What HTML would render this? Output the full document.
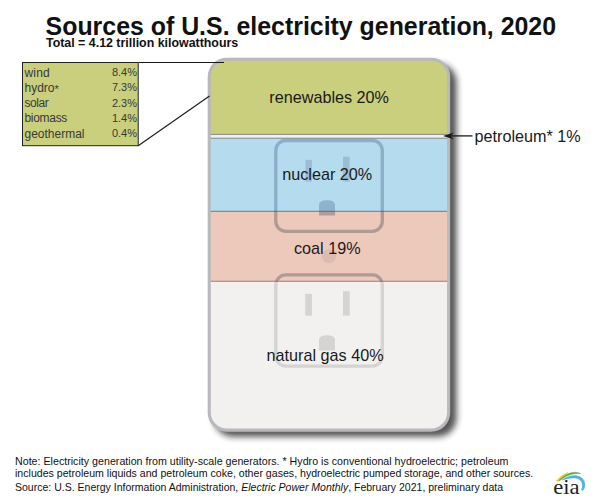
<!DOCTYPE html>
<html><head><meta charset="utf-8">
<style>
html,body{margin:0;padding:0;background:#fff;}
body{width:600px;height:500px;position:relative;overflow:hidden;font-family:"Liberation Sans",sans-serif;color:#1a1a1a;}
.t{position:absolute;white-space:nowrap;line-height:1;}
#title{left:45.6px;top:13.8px;font-size:24.9px;font-weight:bold;color:#111;letter-spacing:0px;}
#sub{left:46px;top:37.3px;font-size:12.4px;font-weight:bold;color:#111;}
.lg{font-size:12px;color:#383838;}
.ln{font-size:11px;color:#383838;right:463px;}
.lbl{font-size:16.2px;color:#1a1a1a;}
.note{font-size:10.6px;color:#111;left:15px;}
svg{position:absolute;left:0;top:0;}
</style></head><body>
<svg width="600" height="500" viewBox="0 0 600 500">
<defs>
<filter id="sh" x="-20%" y="-20%" width="150%" height="150%">
<feGaussianBlur stdDeviation="3"/>
</filter>
<clipPath id="cp"><rect x="210.8" y="60.8" width="236.3" height="367.6" rx="16" ry="16"/></clipPath>
</defs>
<!-- shadow -->
<rect x="214" y="63.5" width="242.6" height="373.2" rx="19" ry="19" fill="#1c1c1c" opacity="0.75" filter="url(#sh)"/>
<!-- plate -->
<rect x="207.7" y="57.8" width="242.5" height="374" rx="19" ry="19" fill="#b8b8bd"/>
<g clip-path="url(#cp)">
<rect x="205" y="55" width="250" height="79.4" fill="#c9cf7c"/>
<rect x="205" y="134.4" width="250" height="3.8" fill="#f5efee"/>
<rect x="205" y="138.2" width="250" height="73.1" fill="#b4dbee"/>
<rect x="205" y="211.3" width="250" height="70" fill="#edc9bc"/>
<rect x="205" y="281.3" width="250" height="150" fill="#f2f1f0"/>
<line x1="205" x2="455" y1="134.4" y2="134.4" stroke="#777" stroke-width="0.8"/>
<line x1="205" x2="455" y1="138.2" y2="138.2" stroke="#777" stroke-width="0.8"/>
<line x1="205" x2="455" y1="211.3" y2="211.3" stroke="#666" stroke-width="0.8"/>
<line x1="205" x2="455" y1="281.3" y2="281.3" stroke="#666" stroke-width="0.8"/>
</g>
<!-- outlets -->
<defs>
<clipPath id="cb"><rect x="205" y="138.2" width="250" height="73.1"/></clipPath>
<clipPath id="cc"><rect x="205" y="211.3" width="250" height="70"/></clipPath>
<clipPath id="cg"><rect x="205" y="281.3" width="250" height="150"/></clipPath>
</defs>
<g clip-path="url(#cp)">
<g clip-path="url(#cb)">
<rect x="275.8" y="140.5" width="106.5" height="90.8" rx="10" ry="10" fill="none" stroke="rgba(47,72,98,0.30)" stroke-width="3.3"/>
<rect x="275.8" y="274.9" width="106.5" height="91.2" rx="10" ry="10" fill="none" stroke="rgba(47,72,98,0.30)" stroke-width="3.3"/>
<rect x="305.4" y="159.9" width="6.5" height="21.8" fill="rgba(52,63,99,0.18)"/>
<rect x="343" y="156.7" width="6.6" height="25" fill="rgba(52,63,99,0.18)"/>
<path d="M319 215.6 V205 Q319 200.3 327 200.3 Q335 200.3 335 205 V215.6 Z" fill="rgba(48,76,106,0.28)"/>
<circle cx="329" cy="256.3" r="7" fill="none"/>
<rect x="305.2" y="293.8" width="6.7" height="21.8" fill="rgba(52,63,99,0.18)"/>
<rect x="343" y="291.2" width="6.7" height="24.4" fill="rgba(52,63,99,0.18)"/>
<path d="M319 350.6 V340 Q319 335.2 327 335.2 Q335 335.2 335 340 V350.6 Z" fill="rgba(48,76,106,0.28)"/>
</g>
<g clip-path="url(#cc)">
<rect x="275.8" y="140.5" width="106.5" height="90.8" rx="10" ry="10" fill="none" stroke="rgba(63,67,74,0.35)" stroke-width="3.3"/>
<rect x="275.8" y="274.9" width="106.5" height="91.2" rx="10" ry="10" fill="none" stroke="rgba(63,67,74,0.35)" stroke-width="3.3"/>
<rect x="305.4" y="159.9" width="6.5" height="21.8" fill="rgba(58,68,79,0.25)"/>
<rect x="343" y="156.7" width="6.6" height="25" fill="rgba(58,68,79,0.25)"/>
<path d="M319 215.6 V205 Q319 200.3 327 200.3 Q335 200.3 335 205 V215.6 Z" fill="rgba(58,68,79,0.33)"/>
<circle cx="329" cy="256.3" r="7" fill="rgba(80,60,60,0.09)"/>
<rect x="305.2" y="293.8" width="6.7" height="21.8" fill="rgba(58,68,79,0.25)"/>
<rect x="343" y="291.2" width="6.7" height="24.4" fill="rgba(58,68,79,0.25)"/>
<path d="M319 350.6 V340 Q319 335.2 327 335.2 Q335 335.2 335 340 V350.6 Z" fill="rgba(58,68,79,0.33)"/>
</g>
<g clip-path="url(#cg)">
<rect x="205" y="281.7" width="250" height="2.2" fill="rgba(255,236,236,0.55)"/>
<rect x="275.8" y="140.5" width="106.5" height="90.8" rx="10" ry="10" fill="none" stroke="rgba(45,45,50,0.15)" stroke-width="3.3"/>
<rect x="275.8" y="274.9" width="106.5" height="91.2" rx="10" ry="10" fill="none" stroke="rgba(45,45,50,0.15)" stroke-width="3.3"/>
<rect x="305.4" y="159.9" width="6.5" height="21.8" fill="rgba(45,45,50,0.15)"/>
<rect x="343" y="156.7" width="6.6" height="25" fill="rgba(45,45,50,0.15)"/>
<path d="M319 215.6 V205 Q319 200.3 327 200.3 Q335 200.3 335 205 V215.6 Z" fill="rgba(45,45,50,0.15)"/>
<circle cx="329" cy="256.3" r="7" fill="none"/>
<rect x="305.2" y="293.8" width="6.7" height="21.8" fill="rgba(45,45,50,0.15)"/>
<rect x="343" y="291.2" width="6.7" height="24.4" fill="rgba(45,45,50,0.15)"/>
<path d="M319 350.6 V340 Q319 335.2 327 335.2 Q335 335.2 335 340 V350.6 Z" fill="rgba(45,45,50,0.15)"/>
</g>
</g>
<!-- legend -->
<rect x="22.5" y="62.5" width="115.7" height="83.2" fill="#c9cf7c" stroke="#222" stroke-width="1"/>
<line x1="138.5" y1="62.5" x2="224" y2="62.5" stroke="#1a1a1a" stroke-width="1.1"/>
<line x1="138.2" y1="145.7" x2="209.5" y2="96" stroke="#1a1a1a" stroke-width="1.15"/>
<!-- arrow -->
<line x1="449" y1="135.9" x2="472.5" y2="135.9" stroke="#1a1a1a" stroke-width="1.3"/>
<path d="M443 135.9 L453.8 132.5 L450.6 135.9 L453.8 139.3 Z" fill="#1a1a1a"/>
<!-- eia logo -->
<g stroke="none">
<path d="M556.3 481 Q561 474.6 568.2 472.2 Q563 476.2 557.6 481.6 Z" fill="#f5c93b" stroke="#f5c93b" stroke-width="0.6" stroke-linejoin="round"/>
<path d="M558.5 480.6 Q566.5 472.2 575.5 472.2 Q578.5 472.3 580.8 473.6 Q576 473.4 572 474.2 Q565 475.8 559.3 481 Z" fill="#5aaa46" stroke="#5aaa46" stroke-width="0.4" stroke-linejoin="round"/>
<path d="M562.3 479.4 Q569.5 475 576 475.6 Q584.2 477 585 484.4 Q585.2 488 582.6 490.8 L581.4 490 Q582.8 487 582.3 484 Q581 478.6 575 478 Q569 477.6 562.6 479.9 Z" fill="#4db1e6" stroke="#4db1e6" stroke-width="0.4" stroke-linejoin="round"/>
</g>
<text x="553.2" y="493.5" font-family="Liberation Serif, serif" font-size="21.5" fill="#222" textLength="26.3" lengthAdjust="spacingAndGlyphs">eia</text>
</svg>
<div class="t" id="title">Sources of U.S. electricity generation, 2020</div>
<div class="t" id="sub">Total = 4.12 trillion kilowatthours</div>

<div class="t lg" style="left:24.5px;top:66.6px;letter-spacing:0.16px;">wind</div><div class="t ln" style="top:67.4px;">8.4%</div>
<div class="t lg" style="left:24.5px;top:81.6px;letter-spacing:0px;">hydro<span style="font-size:11px;vertical-align:-0.5px;line-height:0">*</span></div><div class="t ln" style="top:82.4px;">7.3%</div>
<div class="t lg" style="left:24.5px;top:97px;letter-spacing:-0.43px;">solar</div><div class="t ln" style="top:97.8px;">2.3%</div>
<div class="t lg" style="left:24.5px;top:112.2px;letter-spacing:-0.31px;">biomass</div><div class="t ln" style="top:113.0px;">1.4%</div>
<div class="t lg" style="left:24.5px;top:127.5px;letter-spacing:0px;">geothermal</div><div class="t ln" style="top:128.3px;">0.4%</div>

<div class="t lbl" style="left:269.3px;top:88.7px;">renewables 20%</div>
<div class="t lbl" style="left:282.2px;top:166.3px;">nuclear 20%</div>
<div class="t lbl" style="left:294px;top:240.1px;">coal 19%</div>
<div class="t lbl" style="left:266.6px;top:346.8px;">natural gas 40%</div>
<div class="t lbl" style="left:474.5px;top:127.6px;">petroleum* 1%</div>

<div class="t note" style="top:455.6px;font-size:10.68px">Note: Electricity generation from utility-scale generators. * Hydro is conventional hydroelectric; petroleum</div>
<div class="t note" style="top:467.5px;">includes petroleum liquids and petroleum coke, other gases, hydroelectric pumped storage, and other sources.</div>
<div class="t note" style="top:482px;font-size:10.52px">Source: U.S. Energy Information Administration, <i>Electric Power Monthly</i>, February 2021, preliminary data</div>
</body></html>
